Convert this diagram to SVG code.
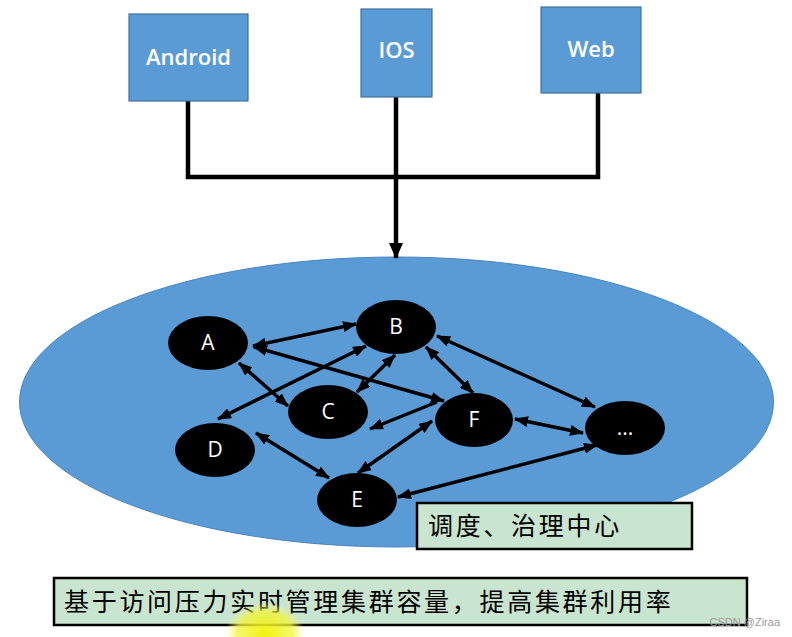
<svg xmlns="http://www.w3.org/2000/svg" width="792" height="637" viewBox="0 0 792 637">
<defs>
<style>
.box{fill:#5b9bd5;stroke:#41719c;stroke-width:1.2}
.btxt{fill:#fff;font-family:"Open Sans","Liberation Sans",sans-serif;font-size:22px;font-weight:600;text-anchor:middle}
.node{fill:#000}
.ntxt{fill:#fff;font-family:"Open Sans","Liberation Sans",sans-serif;font-size:21px;text-anchor:middle}
.bus{fill:none;stroke:#000;stroke-width:4.5}
.arr{fill:none;stroke:#000;stroke-width:3.5;marker-end:url(#ah)}
.dbl{marker-start:url(#ah)}
.lbl{fill:#c9e4cf;stroke:#000;stroke-width:2.5}
.ltxt{fill:#000;font-family:"Noto Sans CJK SC","Noto Sans",sans-serif;font-size:25px;letter-spacing:2.7px}
</style>
<marker id="ah" viewBox="0 0 14 11" refX="13" refY="5.5" markerWidth="14" markerHeight="11" markerUnits="userSpaceOnUse" orient="auto-start-reverse">
<path d="M0,0 L14,5.5 L0,11 Z" fill="#000"/>
</marker>
<marker id="big" viewBox="0 0 16 14" refX="15" refY="7" markerWidth="16" markerHeight="14" markerUnits="userSpaceOnUse" orient="auto">
<path d="M0,0 L16,7 L0,14 Z" fill="#000"/>
</marker>
<radialGradient id="yl" cx="0.5" cy="0.5" r="0.5">
<stop offset="0" stop-color="#eef200" stop-opacity="0.95"/>
<stop offset="0.7" stop-color="#f3f53a" stop-opacity="0.75"/>
<stop offset="1" stop-color="#ffff80" stop-opacity="0"/>
</radialGradient>
</defs>
<rect width="792" height="637" fill="#fff"/>

<g id="cluster">
<ellipse cx="396.5" cy="402" rx="377" ry="145" fill="#5b9bd5" stroke="#4a86c0" stroke-width="1"/>
</g>

<g id="connectors">
<path class="bus" d="M188,101 V177 H598 V93"/>
<line x1="396" y1="97" x2="396" y2="258" stroke="#000" stroke-width="4.5" marker-end="url(#big)"/>
<line class="arr dbl" x1="253" y1="346" x2="356" y2="324"/>
<line class="arr dbl" x1="254" y1="347" x2="444" y2="401"/>
<line class="arr dbl" x1="239" y1="363" x2="288" y2="406"/>
<line class="arr dbl" x1="366" y1="346" x2="218" y2="419"/>
<line class="arr dbl" x1="395" y1="355" x2="357" y2="392"/>
<line class="arr" x1="437" y1="402" x2="370" y2="429"/>
<line class="arr dbl" x1="256" y1="433" x2="329" y2="478"/>
<line class="arr dbl" x1="358" y1="473" x2="432" y2="421"/>
<line class="arr dbl" x1="398" y1="497" x2="597" y2="445"/>
<line class="arr dbl" x1="437" y1="336" x2="595" y2="407"/>
<line class="arr dbl" x1="426" y1="347" x2="473" y2="393"/>
<line class="arr dbl" x1="515" y1="419" x2="583" y2="433"/>
</g>

<g id="android"><rect class="box" x="129" y="14" width="119" height="87"/><text class="btxt" x="188.5" y="65">Android</text></g>
<g id="ios"><rect class="box" x="361" y="9" width="71" height="88"/><text class="btxt" x="396.5" y="58">IOS</text></g>
<g id="web"><rect class="box" x="541" y="7" width="100" height="86"/><text class="btxt" x="591" y="57">Web</text></g>

<g id="nodeA"><ellipse class="node" cx="208" cy="343" rx="40" ry="27"/><text class="ntxt" x="208" y="350">A</text></g>
<g id="nodeB"><ellipse class="node" cx="396" cy="327" rx="40" ry="27"/><text class="ntxt" x="396" y="334">B</text></g>
<g id="nodeC"><ellipse class="node" cx="328" cy="412" rx="40" ry="27"/><text class="ntxt" x="328" y="419">C</text></g>
<g id="nodeD"><ellipse class="node" cx="215" cy="450" rx="40" ry="27"/><text class="ntxt" x="215" y="457">D</text></g>
<g id="nodeE"><ellipse class="node" cx="357" cy="500" rx="40" ry="27"/><text class="ntxt" x="357" y="507">E</text></g>
<g id="nodeF"><ellipse class="node" cx="474" cy="420" rx="39" ry="27"/><text class="ntxt" x="474" y="427">F</text></g>
<g id="nodeMore"><ellipse class="node" cx="625" cy="428" rx="40" ry="27"/><text class="ntxt" x="625" y="435">...</text></g>

<g id="center-label"><rect class="lbl" x="417" y="503" width="275" height="46"/><text class="ltxt" x="428" y="535">调度、治理中心</text></g>

<g id="bottom-label"><rect class="lbl" x="54" y="578" width="693" height="47"/><text class="ltxt" x="64" y="611">基于访问压力实时管理集群容量，提高集群利用率</text></g>

<ellipse cx="265" cy="634" rx="40" ry="32" fill="url(#yl)"/>
<text x="780" y="626" text-anchor="end" font-family="Liberation Sans,sans-serif" font-size="11" fill="#9a9a9a">CSDN @Ziraa</text>
</svg>
